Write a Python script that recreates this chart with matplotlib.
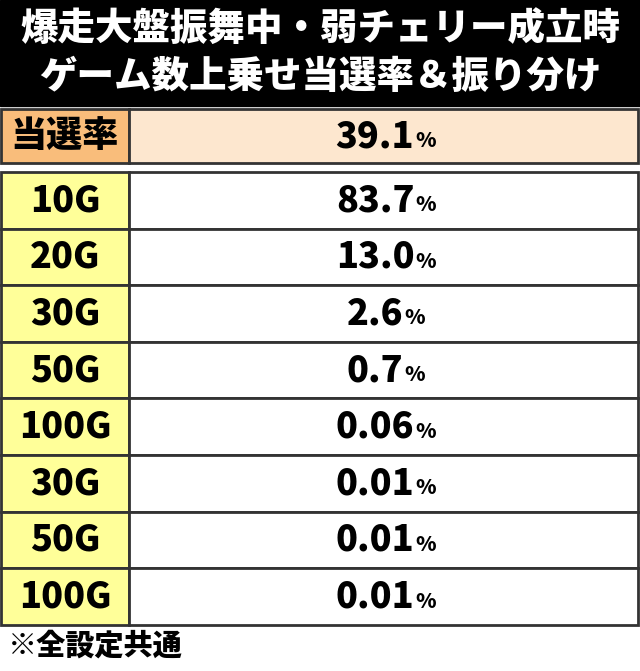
import matplotlib.pyplot as plt
from matplotlib.patches import Rectangle

plt.rcParams['font.family'] = ['Noto Sans CJK JP', 'DejaVu Sans']

title_lines = ['爆走大盤振舞中・弱チェリー成立時', 'ゲーム数上乗せ当選率＆振り分け']
rate_label = '当選率'
rate_value = '39.1'
games = ['10G', '20G', '30G', '50G', '100G', '30G', '50G', '100G']
shares = ['83.7', '13.0', '2.6', '0.7', '0.06', '0.01', '0.01', '0.01']
footnote = '※全設定共通'

W, H = 640, 671
fig = plt.figure(figsize=(W / 100, H / 100), dpi=100)
ax = fig.add_axes([0, 0, 1, 1])
ax.set_xlim(0, W)
ax.set_ylim(H, 0)
ax.axis('off')
renderer = fig.canvas.get_renderer()

# title band
ax.add_patch(Rectangle((0, 0), W, 106, color='black'))
for i, t in enumerate(title_lines):
    ax.text(W / 2, 29 + i * 48, t, color='white', fontsize=27, fontweight='black',
            ha='center', va='center')

left_w = 128
edge = dict(edgecolor='#333333', linewidth=2)

def pct(y, val):
    cx = 383
    t = ax.text(cx - 8, y, val, fontsize=26, fontweight='black', ha='center', va='center')
    bb = t.get_window_extent(renderer)
    x_right = bb.x1  # pixels == data x here
    ax.text(x_right + 1, y + 5, '%', fontsize=15, fontweight='black',
            ha='left', va='center')

# rate row
y0, h0 = 109, 54
ax.add_patch(Rectangle((1, y0), left_w, h0, facecolor='#F9BD7B', **edge))
ax.add_patch(Rectangle((left_w + 1, y0), W - left_w - 3, h0, facecolor='#FDE7CF', **edge))
ax.text(left_w / 2 + 1, y0 + h0 / 2, rate_label, fontsize=26, fontweight='black',
        ha='center', va='center')
pct(y0 + h0 / 2, rate_value)

# distribution rows
top, rh = 172, 56.6
for i, (g, s) in enumerate(zip(games, shares)):
    y = top + i * rh
    ax.add_patch(Rectangle((1, y), left_w, rh, facecolor='#FFFF99', **edge))
    ax.add_patch(Rectangle((left_w + 1, y), W - left_w - 3, rh, facecolor='white', **edge))
    ax.text(left_w / 2 + 1, y + rh / 2, g, fontsize=26, fontweight='black',
            ha='center', va='center')
    pct(y + rh / 2, s)

ax.text(8, 646, footnote, fontsize=21, fontweight='black', ha='left', va='center')

fig.savefig('out.png', dpi=100)
